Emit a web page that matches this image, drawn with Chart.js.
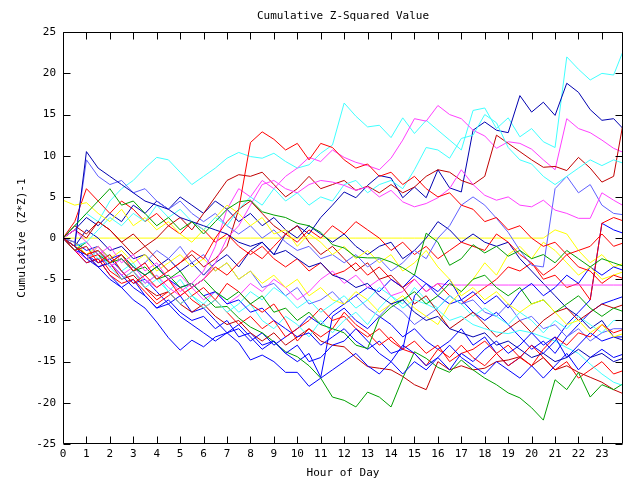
<!DOCTYPE html>
<html>
<head>
<meta charset="utf-8">
<script src="https://cdn.jsdelivr.net/npm/chart.js@4.4.1/dist/chart.umd.min.js"></script>
<style>
  body { margin: 0; background: #fff; }
  #wrap { width: 640px; height: 480px; }
</style>
</head>
<body>
<div id="wrap"><canvas id="zchart"></canvas></div>
<script>
// sample times, every half hour
const hours = [0, 0.5, 1, 1.5, 2, 2.5, 3, 3.5, 4, 4.5, 5, 5.5,
  6, 6.5, 7, 7.5, 8, 8.5, 9, 9.5, 10, 10.5, 11, 11.5,
  12, 12.5, 13, 13.5, 14, 14.5, 15, 15.5, 16, 16.5, 17, 17.5,
  18, 18.5, 19, 19.5, 20, 20.5, 21, 21.5, 22, 22.5, 23, 23.5, 24];

const yTicks = [-25, -20, -15, -10, -5, 0, 5, 10, 15, 20, 25];

// cumulative values (one list per trace)
const cyanTop = [0, 1.5, 3, 2, 4.5, 6, 7, 8.5, 9.8, 9.5, 8, 6.5,
  7.5, 8.5, 9.7, 10.4, 9.9, 9.7, 10.3, 9.3, 8.5, 8.9, 10.3, 11.3,
  16.4, 14.8, 13.5, 13.7, 12.2, 14.6, 12.7, 14.3, 13.1, 11.9, 10.7, 15.5,
  15.8, 13.3, 14.6, 12.3, 13.3, 11.7, 11.0, 22.0, 20.5, 19.2, 20.0, 19.8, 23.4];
const darkRedRise = [0, 1.5, 0.5, 2, 1, -0.5, 0.5, -1, 0, 1.5, 2.5, 1,
  3, 5, 7, 7.7, 7.5, 8, 6.5, 5, 6, 7.5, 6, 6.5,
  7, 5.8, 6.3, 5.5, 6.5, 5.5, 6.2, 7.5, 8.3, 8, 7, 6.5,
  7.5, 12.5, 11.5, 10.5, 9.5, 8.6, 8.7, 8.2, 9.8, 8.5, 6.8, 7.5, 15.5];
const navyPeak = [0, -1, 1, 0, -1.5, -1, -2.5, -2, -3.5, -2.5, -4, -3,
  -4.5, -3, -2, -3.5, -1.5, -0.5, -2, 0.5, 1.5, 0.5, 2.5, 4,
  5.6, 4.9, 6.4, 7.6, 7.3, 4.9, 6.2, 4.9, 8.3, 6.1, 5.6, 13.1,
  14.1, 13.1, 12.8, 17.3, 15.3, 16.5, 14.9, 18.8, 17.7, 15.6, 14.3, 14.5, 13];
const magentaHigh = [0, -1.5, -2.5, -1, -3, -4.5, -3.5, -5, -6, -5, -6.5, -5.5,
  -4, -1, 3.5, 6, 5, 7, 6, 7.5, 8.5, 9.8, 9.3, 10.7,
  9.8, 9.2, 8.8, 8.3, 9.7, 11.9, 14.5, 14.2, 16.1, 15, 14.5, 13.1,
  12.4, 10.9, 11.7, 11.5, 10.8, 9.5, 8.3, 14.5, 13.3, 12.8, 11.9, 10.9, 10.3];
const cyanMid = [0, -1, -0.5, 1, 2.5, 1.5, 3, 2, 4, 2.5, 3.5, 2,
  1, 2.5, 1.5, 3.5, 5, 4, 6, 4.5, 5.5, 4, 5, 4.5,
  6.5, 7, 5.5, 6.5, 7, 6, 8.3, 11, 10.7, 9.7, 12.1, 12.5,
  15, 14, 11, 9.5, 9, 7.5, 6.5, 7.5, 8.5, 9.5, 8.8, 9.5, 9];
const magentaLow = [0, 1, -0.5, -2, -1, -3, -2, -4, -3, -5, -4.5, -6,
  -5, -3, 0, 1.5, 4, 6.5, 7, 6, 5.5, 6.5, 7, 6.8,
  6.4, 5.8, 6.2, 5, 5.8, 4.4, 3.8, 4.2, 4.9, 6, 8.3, 6.5,
  5.2, 4.6, 5, 4, 3.8, 4.6, 3.4, 3, 2.4, 2.4, 5.5, 4.6, 3.8];
const redSpike = [0, -1, -2, -1.5, -3, -2, -4, -3, -5, -4, -3, -1.5,
  -2.5, 0, 2, 3.5, 11.6, 12.9, 12, 10.7, 11.5, 9.5, 11.5, 11,
  9.5, 8.5, 9, 7.5, 8, 6.5, 7.5, 6, 5, 5.5, 4, 3.5,
  2, 2.5, 1, 1.5, 0, -1, -0.5, -2, -1.5, -1, 0.5, -1, -0.5];
const blueEarly = [0, -1, 10.5, 8.5, 7.5, 6.5, 5.5, 4.5, 4, 3.5, 2.5, 2,
  1.5, 1, 0.5, -0.5, -1, -0.5, -2, -1.5, -2.5, -3.5, -3, -4.5,
  -5, -6, -5.5, -7, -8, -7.5, -9, -10, -9.5, -11, -11.5, -12,
  -11.5, -13, -12.5, -13.5, -14.5, -14, -15, -14.5, -13.5, -14.5, -14, -15, -14.5];
const yellowFlat = [0, 0, 0, 0, 0, 0, 0, 0, 0, 0, 0, 0,
  0, 0, 0, 0, 0, 0, 0, 0, 0, 0, 0, 0,
  0, 0, 0, 0, 0, 0, 0, 0, 0, 0, 0, 0,
  0, 0, 0, 0, 0, 0, 1, 0.5, -1.5, -3, -2, -3.5, -3];
const yellowA = [4.6, 4, 4.3, 3, 2, 3.5, 1.5, 2.5, 1, 2, 0.5, -0.5,
  1, 2.5, 4, 3, 1.5, 2.5, 0.5, 1, -1, 0.5, -0.5, -2,
  -1, -2.5, -1.5, -3, -2, -4, -3, -1.5, -3.5, -5, -7, -6,
  -7.5, -6.5, -8, -9, -8, -7.5, -9, -10.5, -10, -11.5, -10.5, -12, -11.5];
const yellowB = [0, -0.5, -2, -1, -2.5, -1.5, -3, -2, -4, -3, -2, -3.5,
  -2.5, -4, -3, -5, -4, -5.5, -4.5, -6, -5, -7, -6, -7.5,
  -8, -6.5, -7.5, -9, -8, -7, -8.5, -9.5, -10.5, -8, -6.5, -5,
  -3, -4.5, -2, -1, -2.5, -0.5, -1.5, -3, -4.5, -3.5, -5, -4.5, -4];
const greenLow = [0, -1, -2, -1.5, -3, -2.5, -4, -3.5, -5, -4.5, -6, -5.5,
  -7, -8.4, -8.3, -9.7, -10.8, -11.5, -12.6, -13.8, -14.4, -15.5, -17, -19.3,
  -19.7, -20.5, -18.7, -19.3, -20.5, -17, -13.8, -14.6, -15.7, -16.3, -14.8, -16,
  -17, -17.8, -18.8, -19.4, -20.6, -22.1, -17.2, -18.4, -16.3, -19.3, -17.8, -18.4, -17.5];
const greenHigh = [0, 1.5, 3, 4.5, 6, 4, 4.5, 3, 1.5, 2.5, 1, 2,
  0.5, 2, 3.5, 4.4, 4.6, 3.2, 2.8, 2.5, 1.8, 1.5, 0.7, -0.8,
  -1.2, -2.3, -2.4, -2.4, -2.9, -3.6, -4.5, 0.6, -0.5, -3.3, -2.5, -0.8,
  -1.8, -1, -2.2, -1.5, -2.5, -2, -3, -1.5, -2.5, -3.5, -2.5, -3, -3.5];
const greenMid = [0, -1.5, -0.5, -2, -3, -2, -3.5, -4.5, -3.5, -5, -4, -6,
  -5, -6.5, -7.5, -6.5, -8, -7, -9, -8.5, -10, -9, -10.5, -11,
  -11.5, -13, -13.4, -9.7, -8.4, -7.5, -6.5, -8, -7, -5.5, -6.5, -5,
  -4.5, -6, -7, -6, -8, -7.5, -9, -8, -7, -8.5, -9.5, -8.5, -9];
const magentaFlat = [0, -1, -2.5, -1.5, -3.5, -2.5, -4, -5.5, -4.5, -6, -7, -6,
  -7.5, -6.5, -8, -7, -5.5, -6.5, -5, -6, -7.5, -6.5, -5, -4,
  -5.5, -4.5, -6, -5, -7, -6.5, -5, -6.5, -5.5, -5.7, -5.7, -5.7,
  -5.7, -5.7, -5.7, -5.7, -5.7, -5.7, -5.7, -5.7, -5.7, -5.7, -5.7, -5.7, -5.7];
const blueJump = [0, -1.5, -3, -2.5, -4.5, -6, -5, -7, -8.5, -7.5, -9, -10,
  -9.5, -11, -10, -12, -11.5, -13, -12.5, -14, -15, -14, -16.9, -9.5,
  -8.5, -10, -11, -9.5, -10.5, -12, -11, -12.5, -13.5, -12.5, -11, -13,
  -12, -14, -15.5, -14.5, -13, -14, -12.5, -10.5, -9, -7.5, 1.8, 1, 0.5];
const blueDeep = [0, -1, -2.5, -3.5, -5, -6, -7.5, -8.5, -10.2, -12.1, -13.6, -12.4,
  -13.2, -12, -11.5, -12.7, -14.8, -14.2, -15, -16.3, -16.3, -18, -17, -16,
  -15, -14, -15.5, -16.5, -15, -13, -14, -15.5, -14.5, -16, -14, -15,
  -13.5, -12.5, -14, -13, -11.5, -13, -12, -14.5, -13, -11.5, -12.5, -12, -12];
const blueFloor = [0, -1.5, -2, -3.5, -3, -4.5, -6, -7, -8.5, -8, -9.5, -10.5,
  -11.5, -12.5, -11.5, -10.5, -12, -13.5, -12.5, -14, -13, -15, -14.5, -13,
  -12.5, -11, -12.5, -14, -15, -16.5, -15, -16, -14.5, -13, -14.5, -15.5,
  -16.5, -15, -16, -17, -15.5, -17, -15.5, -14, -16, -14.5, -13.5, -14.5, -14];
const blueClimb = [0, -0.5, -1.5, -1, -2.5, -2, -3.5, -4.5, -3.5, -5, -6, -5.5,
  -7, -6.5, -8, -7.5, -9, -8.5, -10, -11, -12, -11.5, -13, -12,
  -11, -12.5, -13.5, -12.5, -14, -13.5, -7, -5.5, -6.5, -5, -7.5, -6.5,
  -8, -7, -8.5, -6.5, -5.5, -7, -6, -4.5, -5.5, -3.5, -4.5, -3.5, -4];
const blueSlide = [0, 1, 2.5, 1.5, 3, 2, 4, 3, 4.5, 3.5, 5, 4,
  3, 4.5, 3.5, 2, 3, 1.5, 2.5, 1, 0, 1.5, 0.5, -0.5,
  0.5, -1, -2, -1, -0.5, -2.5, -1.5, 0, 2, 1, -0.5, 0.5,
  -0.5, -1, -0.5, -2.5, -4, -5.5, -7, -8.5, -9.5, -11, -10, -12, -12.5];
const blueDip = [0, -1, -2, -3, -2.5, -4, -5.5, -5, -6.5, -8, -7, -9,
  -8.5, -10, -11.5, -11, -12.5, -11.5, -13, -12, -11, -9.5, -10.5, -9,
  -8, -7, -6, -6.5, -5, -6, -4.5, -5.5, -7, -8, -7.5, -9,
  -10, -9, -10.5, -12, -13.5, -12.5, -14, -12, -10.5, -9, -8, -7.5, -7];
const slateEarly = [0, -0.5, 9.5, 7.5, 6.5, 7, 5.5, 6, 4.5, 3.5, 4.5, 3,
  2, 3, 1.5, 0.5, 1.5, 0, 1, -0.5, -1.5, -1, -2.5, -2,
  -3, -2, -3.5, -2.5, -4, -3, -1.5, -2.5, 0, 1.5, 4, 5,
  4, 2.4, 0.7, -1.5, -3.3, -3.5, 6, 7.5, 5.5, 6.5, 4, 3, 2.8];
const slateLow = [0, -1, -0.5, -2, -3.5, -2.5, -4, -3, -1.5, -2.5, -1, -3,
  -2, -4, -3, -5, -4, -6, -5.5, -7, -6, -8, -7.5, -6.5,
  -8, -7, -8.5, -9.5, -8, -9, -10.5, -9.5, -8.5, -7, -8, -7.5,
  -9, -9.5, -8, -10, -9.5, -11, -10.5, -12, -11, -12.5, -11.5, -11, -11];
const redRise = [0, 2, 6, 4.5, 3, 4.5, 3.5, 2, 3, 1.5, 0.5, 2,
  1, -0.5, 0.5, -1, -2, -1, -2.5, -3.5, -2.5, -4, -3, -4.5,
  -4, -3, -4.5, -3.5, -5, -6, -5, -6.5, -5.5, -7, -8, -7,
  -6, -5, -3.5, -4, -3, -5, -4.5, -6, -5.5, -7.5, 1.8, 2.5, 2];
const redMid = [0, -1.5, -1, -3, -2, -4, -5.5, -4.5, -6, -5, -7, -6,
  -5, -3.5, -4.5, -3, -1.5, -2.5, -1, 0.5, -0.5, 1, 0, 1.5,
  0.5, 2, 1, 0, -1.5, -0.5, -2, -1, -2.5, -1.5, -0.5, -1,
  -1.5, 0.5, -0.5, -2, -3, -4.5, -3.5, -2, -3.5, -4, -5.5, -4.5, -5];
const redLow = [0, -1, -2.5, -2, -4, -5, -4, -6, -7.5, -6.5, -8, -7,
  -6, -7.5, -5.5, -6.5, -8, -9, -8, -10, -12.5, -11, -12, -11,
  -9, -10.5, -11.5, -13, -12, -13.5, -14, -15.5, -13.5, -14.5, -13, -14.5,
  -15.5, -14, -13, -14.5, -15.5, -13.5, -12, -13, -11.5, -12, -10.5, -11.5, -11];
const redFloor = [0, -1.5, -3, -2.5, -4.5, -5.5, -5, -6.5, -8, -7, -6, -7.5,
  -8.5, -7.5, -9, -10.5, -9.5, -11, -10, -12, -11, -10, -8.5, -10,
  -9.5, -11, -12, -11, -12.5, -13.5, -12.5, -14, -13, -15, -14, -13.5,
  -12.5, -14, -15.5, -14.5, -13, -14.5, -16, -15, -17, -16, -15, -16.5, -16];
const darkRedLow = [0, -1, -2, -3.5, -3, -5, -4.5, -6, -7, -6.5, -8, -9,
  -8, -9.5, -10.5, -10, -11.5, -12.5, -11.5, -13, -12, -11, -12.5, -13,
  -13.2, -14.5, -15.6, -15.8, -16, -16.8, -17.8, -18.4, -15, -16, -15.5, -16,
  -15.8, -15, -14.8, -14.4, -15.5, -14.5, -16, -15.5, -16.3, -16.9, -17.5, -18.4, -19];
const cyanLow = [0, -1, -2.5, -1.5, -3.5, -5, -4, -6, -5, -6.5, -8, -7,
  -8.5, -7.5, -9, -8, -6.5, -7.5, -6, -7, -8.5, -7.5, -9, -8,
  -7, -8.5, -7.5, -6, -7, -8.5, -7.5, -8, -8.7, -10, -9.5, -10.5,
  -11, -11.4, -11.6, -11.2, -11.5, -12, -12.5, -13.3, -14, -15.3, -16.5, -17.5, -18];
const cyanDrift = [0, -1.5, -1, -2.5, -2, -4, -3, -5.5, -4.5, -6.5, -5, -7,
  -8, -6.5, -7.5, -9, -8, -10, -11, -9.5, -10.5, -12, -10, -11.5,
  -10, -9, -10.5, -8.5, -7, -8, -6, -7.5, -8.5, -7, -8, -9.5,
  -8.5, -9.5, -10.5, -9, -10, -11.5, -10, -11, -9.5, -10.5, -11.5, -10, -10];
const darkRedMid = [0, 1, 0, 2, 1, -0.5, -2, -1, -2.5, -4, -3, -2,
  -3.5, -2.5, -1, 3.5, 4.5, 3, 1.5, 0.5, 1.5, -0.5, -2, -1,
  -2.5, -4, -3, -5, -4.5, -6, -8, -7, -9, -11, -10, -9,
  -10.5, -12, -11, -10, -11.5, -10, -9, -8.5, -10, -9, -8, -8.5, -8];

const CYAN = '#40ffff', MAGENTA = '#ff40ff', RED = '#ff0000', DARKRED = '#c00000',
  GREEN = '#00a000', BLUE = '#0000ff', NAVY = '#0000b0', SLATE = '#6060ff', YELLOW = '#ffff00';

const traces = [
  [redSpike, RED], [greenHigh, GREEN], [blueEarly, NAVY], [magentaLow, MAGENTA],
  [cyanMid, CYAN], [darkRedRise, DARKRED], [yellowA, YELLOW], [slateEarly, SLATE],
  [redMid, RED], [greenMid, GREEN], [blueDeep, BLUE], [magentaHigh, MAGENTA],
  [cyanLow, CYAN], [darkRedMid, DARKRED], [yellowB, YELLOW], [blueFloor, BLUE],
  [redLow, RED], [greenLow, GREEN], [blueClimb, BLUE], [magentaFlat, MAGENTA],
  [cyanDrift, CYAN], [darkRedLow, DARKRED], [slateLow, SLATE], [blueSlide, NAVY],
  [redFloor, RED], [blueDip, BLUE], [redRise, RED], [blueJump, BLUE],
  [navyPeak, NAVY], [yellowFlat, YELLOW], [cyanTop, CYAN]
];

const MONO = "'DejaVu Sans Mono', monospace";

// gnuplot-style frame with inward tick marks on all four sides
const frameTicks = {
  id: 'frameTicks',
  afterDatasetsDraw(chart) {
    const { ctx, chartArea: a, scales: { x, y } } = chart;
    const L = Math.round(a.left) + 0.5, R = Math.round(a.right) - 0.5;
    const T = Math.round(a.top) + 0.5, B = Math.round(a.bottom) - 0.5;
    ctx.save();
    ctx.strokeStyle = '#000';
    ctx.lineWidth = 1;
    ctx.beginPath();
    x.ticks.forEach(t => {
      const px = Math.round(x.getPixelForValue(t.value)) + 0.5;
      ctx.moveTo(px, B); ctx.lineTo(px, B - 7);
      ctx.moveTo(px, T); ctx.lineTo(px, T + 7);
    });
    y.ticks.forEach(t => {
      const py = Math.round(y.getPixelForValue(t.value)) + 0.5;
      ctx.moveTo(L, py); ctx.lineTo(L + 7, py);
      ctx.moveTo(R, py); ctx.lineTo(R - 7, py);
    });
    ctx.rect(L, T, R - L, B - T);
    ctx.stroke();
    ctx.restore();
  }
};

new Chart(document.getElementById('zchart'), {
  type: 'line',
  data: {
    datasets: traces.map(([vals, color]) => ({
      data: vals.map((v, i) => ({ x: hours[i], y: v })),
      borderColor: color,
      borderWidth: 1,
      pointRadius: 0,
      fill: false,
      tension: 0
    }))
  },
  options: {
    responsive: true,
    maintainAspectRatio: false,
    animation: false,
    layout: { padding: { left: 0, right: 17, top: 0, bottom: 0 } },
    plugins: {
      legend: { display: false },
      tooltip: { enabled: false },
      title: {
        display: true,
        fullSize: false,
        text: 'Cumulative Z-Squared Value',
        color: '#000',
        font: { family: MONO, size: 11, weight: 'normal' },
        padding: { top: 10, bottom: 9 }
      }
    },
    scales: {
      x: {
        type: 'linear',
        min: 0,
        max: 23.9,
        grid: { display: false, drawTicks: false },
        border: { display: false },
        ticks: {
          stepSize: 1,
          includeBounds: false,
          autoSkip: false,
          maxRotation: 0,
          padding: 4,
          color: '#000',
          font: { family: MONO, size: 11 }
        },
        title: {
          display: true,
          text: 'Hour of Day',
          color: '#000',
          font: { family: MONO, size: 11 },
          padding: { top: 3, bottom: 0 }
        },
        afterFit(scale) { scale.height = 36; }
      },
      y: {
        min: -25,
        max: 25,
        grid: { display: false, drawTicks: false },
        border: { display: false },
        afterBuildTicks(scale) { scale.ticks = yTicks.map(v => ({ value: v })); },
        ticks: {
          padding: 7,
          color: '#000',
          font: { family: MONO, size: 11 }
        },
        title: {
          display: true,
          text: 'Cumulative (Z*Z)-1',
          color: '#000',
          font: { family: MONO, size: 11 },
          padding: { top: 16, bottom: 4 }
        },
        afterFit(scale) { scale.width = 63; }
      }
    }
  },
  plugins: [frameTicks]
});
</script>
</body>
</html>
